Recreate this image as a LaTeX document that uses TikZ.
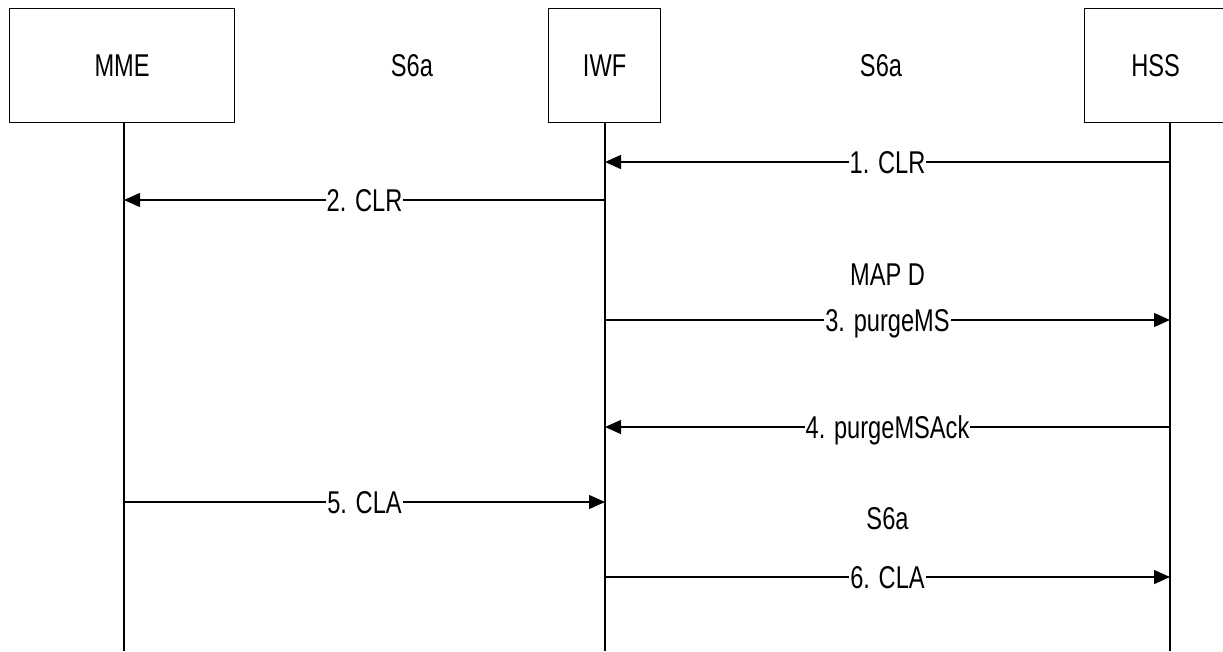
\documentclass[tikz,border=0pt]{standalone}
\usepackage{fontspec}
\setmainfont{Liberation Sans}[FakeStretch=0.75]
\usetikzlibrary{arrows.meta,positioning}
\tikzset{
  entbox/.style={draw=black,line width=1.2pt,minimum height=114pt,inner sep=0pt,text height=22.6pt,text depth=0pt},
  lifeline/.style={draw=black,line width=1.2pt},
  msg/.style={-{Triangle[length=16pt,width=14pt]},line width=1.2pt},
  msglabel/.style={fill=white,inner sep=1pt,text height=22.6pt,text depth=0pt}
}

\begin{document}
\begin{tikzpicture}[x=1pt,y=-1pt,font=\fontsize{31.5pt}{36pt}\selectfont]
  \useasboundingbox (0,0) rectangle (1223,651);

  % --- Entities ---
  \node[entbox,minimum width=225pt,anchor=north west] (mme) at (9,8) {MME};
  \node[entbox,minimum width=112pt,anchor=north west] (iwf) at (548,8) {IWF};
  \node[entbox,minimum width=142pt,anchor=north west] (hss) at (1084,8) {HSS};

  % --- Interface names between the boxes ---
  \node[msglabel,fill=none] (ifL) at (412,65) {S6a};
  \node[msglabel,fill=none] (ifR) at (881,65) {S6a};

  % --- Lifelines ---
  \coordinate (mmeTop) at (124,122);
  \coordinate (iwfTop) at (605,122);
  \coordinate (hssTop) at (1170,122);
  \coordinate (bottom) at (0,651);

  \draw[lifeline] (mmeTop) -- (mmeTop |- bottom);
  \draw[lifeline] (iwfTop) -- (iwfTop |- bottom);
  \draw[lifeline] (hssTop) -- (hssTop |- bottom);

  % --- Message rows ---
  \coordinate (r1) at (0,162);
  \coordinate (r2) at (0,200);
  \coordinate (r3) at (0,320);
  \coordinate (r4) at (0,427);
  \coordinate (r5) at (0,502);
  \coordinate (r6) at (0,577);

  % --- Messages ---
  \draw[msg] (hssTop |- r1) -- node[msglabel] (l1) {1. CLR} (iwfTop |- r1);
  \draw[msg] (iwfTop |- r2) -- node[msglabel] (l2) {2. CLR} (mmeTop |- r2);
  \draw[msg] (iwfTop |- r3) -- node[msglabel] (l3) {3. purgeMS} (hssTop |- r3);
  \draw[msg] (hssTop |- r4) -- node[msglabel] (l4) {4. purgeMSAck} (iwfTop |- r4);
  \draw[msg] (mmeTop |- r5) -- node[msglabel] (l5) {5. CLA} (iwfTop |- r5);
  \draw[msg] (iwfTop |- r6) -- node[msglabel] (l6) {6. CLA} (hssTop |- r6);

  % --- Protocol names over the messages ---
  \node[msglabel,fill=none,above=20.4pt of l3] (mapd) {MAP D};
  \node[msglabel,fill=none,above=33.4pt of l6] (s6a) {S6a};

\end{tikzpicture}
\end{document}
